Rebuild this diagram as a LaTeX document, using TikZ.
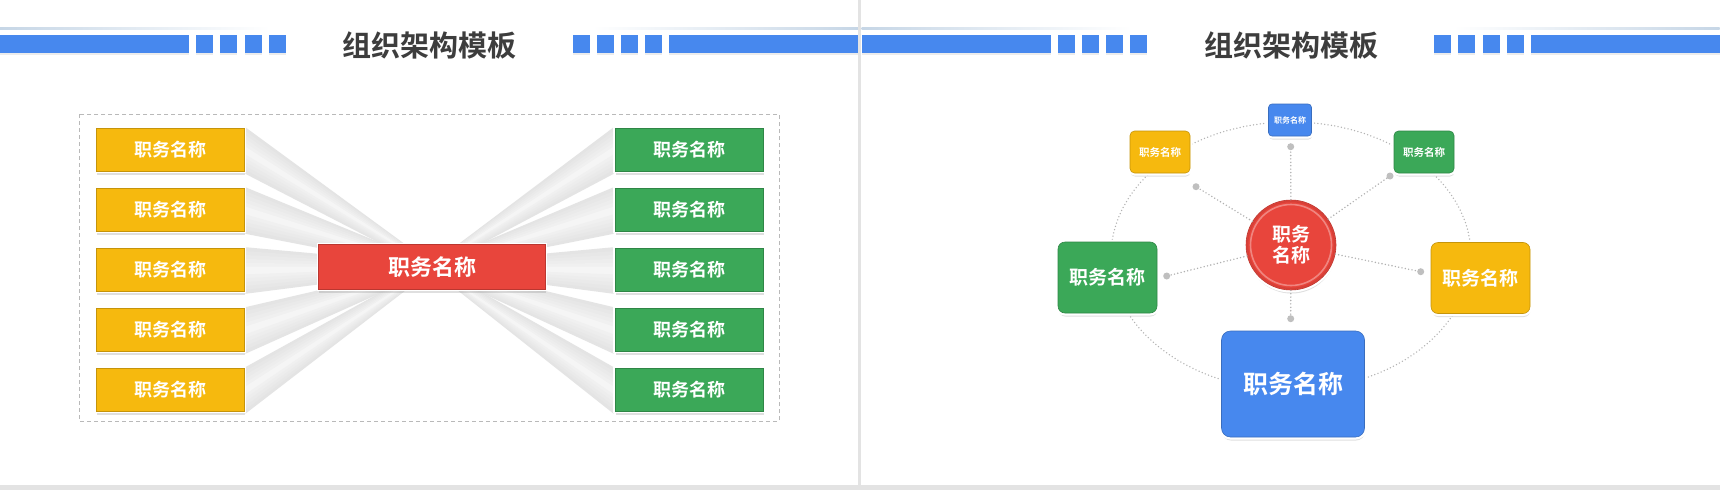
\documentclass[tikz,border=0pt]{standalone}
\usepackage{fontspec}
\setmainfont{Noto Sans CJK SC}[BoldFont={Noto Sans CJK SC Bold}]
\usetikzlibrary{shadows,calc,backgrounds}
\definecolor{gblue}{HTML}{4788EE}
\definecolor{gred}{HTML}{E8453C}
\definecolor{gyellow}{HTML}{F6B90E}
\definecolor{ggreen}{HTML}{3BA858}
\definecolor{inkgray}{HTML}{3D3D3D}
\definecolor{tintline}{HTML}{C6D6E6}

\begin{document}
\begin{tikzpicture}[
    x=1pt,y=-1pt,
    every node/.style={font=\bfseries,text=white,inner sep=0pt},
    hbar/.style={fill=gblue,drop shadow={opacity=.15,shadow xshift=0pt,shadow yshift=-2pt}},
    rolebox/.style={rectangle,minimum width=148pt,minimum height=43pt,
        drop shadow={opacity=.25,shadow xshift=.5pt,shadow yshift=-3pt},
        preaction={draw=white,line width=3.5pt},
        fill=#1,draw=#1!80!black,line width=.6pt,
        font=\fontsize{18}{18}\selectfont\bfseries},
    card/.style={rectangle,rounded corners=7pt,
        drop shadow={opacity=.25,shadow xshift=.5pt,shadow yshift=-3.5pt},
        preaction={draw=white,line width=5pt},
        fill=#1,draw=#1!80!black,line width=.6pt},
    ring/.style={draw=gray!60,line width=1.5pt,line cap=round,dash pattern=on 0pt off 3.4pt},
    spoke/.style={draw=gray!62,line width=1.6pt,line cap=round,dash pattern=on 0pt off 3.4pt},
    stud/.style={circle,fill=gray!50,minimum size=7pt}]
  \useasboundingbox (0,0) rectangle (1720,490);
  % header of both halves
  \foreach \o/\t in {0/1,861.5/2} {
    \shade[left color=tintline,right color=white] (\o,27.5) rectangle (\o+270,29.5);
    \shade[left color=white,right color=tintline] (\o+592,27.5) rectangle (\o+858,29.5);
    \fill[hbar] (\o,34.5) rectangle (\o+189,52.5);
    \fill[hbar] (\o+669,34.5) rectangle (\o+858,52.5);
    \foreach \k in {0,...,3} {
      \fill[hbar] (\o+196+24.3*\k,34.5) rectangle (\o+213+24.3*\k,52.5);
      \fill[hbar] (\o+572.5+24.3*\k,34.5) rectangle (\o+589.5+24.3*\k,52.5);
    }
    \node[text=inkgray,font=\fontsize{29}{29}\selectfont\bfseries] (title\t) at (\o+429.5,45.5) {组织架构模板};
  }
  % left half
  \draw[gray!55,line width=.8pt,dash pattern=on 4pt off 3pt] (79,114) rectangle (779,421);
  \foreach \yc [count=\i] in {150,210,...,390} {
    \node[rolebox=gyellow] (left\i) at (170,\yc) {职务名称};
    \node[rolebox=ggreen] (right\i) at (689,\yc) {职务名称};
  }
  \node[rolebox=gred,minimum width=227pt,minimum height=45pt,
    font=\fontsize{22}{22}\selectfont\bfseries] (head) at (432,267) {职务名称};
  \begin{pgfonlayer}{background}
    \fill[white] (0,0) rectangle (1720,490);
    \coordinate (ht) at ($(head.center)+(0,-3)$);
    \coordinate (hb) at ($(head.center)+(0,3)$);
    \foreach \i in {1,...,5} {
      \coordinate (lt) at ($(left\i.north east)+(1,-1)$);
      \coordinate (lb) at ($(left\i.south east)+(1,2)$);
      \coordinate (rt) at ($(right\i.north west)+(-1,-1)$);
      \coordinate (rb) at ($(right\i.south west)+(-1,2)$);
      \foreach \k in {0,...,11} {
        \pgfmathsetmacro{\ta}{\k/12}
        \pgfmathsetmacro{\tb}{min(1,(\k+1.2)/12)}
        \pgfmathsetmacro{\tone}{6+15*(abs(\k-5.5)/5.5)^0.8}
        \fill[gray!\tone] ($(lt)!\ta!(lb)$) -- ($(lt)!\tb!(lb)$) --
          ($(ht)!\tb!(hb)$) -- ($(ht)!\ta!(hb)$) -- cycle;
        \fill[gray!\tone] ($(rt)!\ta!(rb)$) -- ($(rt)!\tb!(rb)$) --
          ($(ht)!\tb!(hb)$) -- ($(ht)!\ta!(hb)$) -- cycle;
      }
    }
  \end{pgfonlayer}
  % right half
  \draw[ring] (1291,256) ellipse [x radius=180pt,y radius=134pt];
  \node[card=gred,circle,minimum size=90pt,align=center,
    font=\fontsize{19}{21}\selectfont\bfseries] (hub) at (1291,245) {职务\\名称};
  \draw[gred!85!black,opacity=.5,line width=1.5pt] (hub.center) circle (43.5pt);
  \draw[white,opacity=.35,line width=1.6pt] (hub.center) circle (40.5pt);
  \node[card=gblue,minimum width=43pt,minimum height=32pt,rounded corners=3.5pt,
    font=\fontsize{8}{8}\selectfont\bfseries] (n1) at (1290,120) {职务名称};
  \node[card=gyellow,minimum width=60pt,minimum height=42pt,rounded corners=4.5pt,
    font=\fontsize{10.5}{10.5}\selectfont\bfseries] (n2) at (1160,152) {职务名称};
  \node[card=ggreen,minimum width=60pt,minimum height=42pt,rounded corners=4.5pt,
    font=\fontsize{10.5}{10.5}\selectfont\bfseries] (n3) at (1424,152) {职务名称};
  \node[card=ggreen,minimum width=99pt,minimum height=71pt,
    font=\fontsize{19}{19}\selectfont\bfseries] (n4) at (1107.5,277.5) {职务名称};
  \node[card=gyellow,minimum width=99pt,minimum height=71pt,
    font=\fontsize{19}{19}\selectfont\bfseries] (n5) at (1480.5,278) {职务名称};
  \node[card=gblue,minimum width=143pt,minimum height=106pt,rounded corners=9pt,
    font=\fontsize{25}{25}\selectfont\bfseries] (n6) at (1293,384) {职务名称};
  \foreach \n/\px/\py in {1/1290.7/146.7,2/1196/186.7,3/1390/176,
      4/1166.7/276,5/1420.7/271.7,6/1290.7/318.7} {
    \node[stud] (stud\n) at (\px,\py) {};
    \draw[spoke] (hub) -- (stud\n);
  }
  \fill[gray!22] (858,0) rectangle (861,490);
  \fill[gray!22] (0,484.5) rectangle (1720,490);
\end{tikzpicture}
\end{document}
